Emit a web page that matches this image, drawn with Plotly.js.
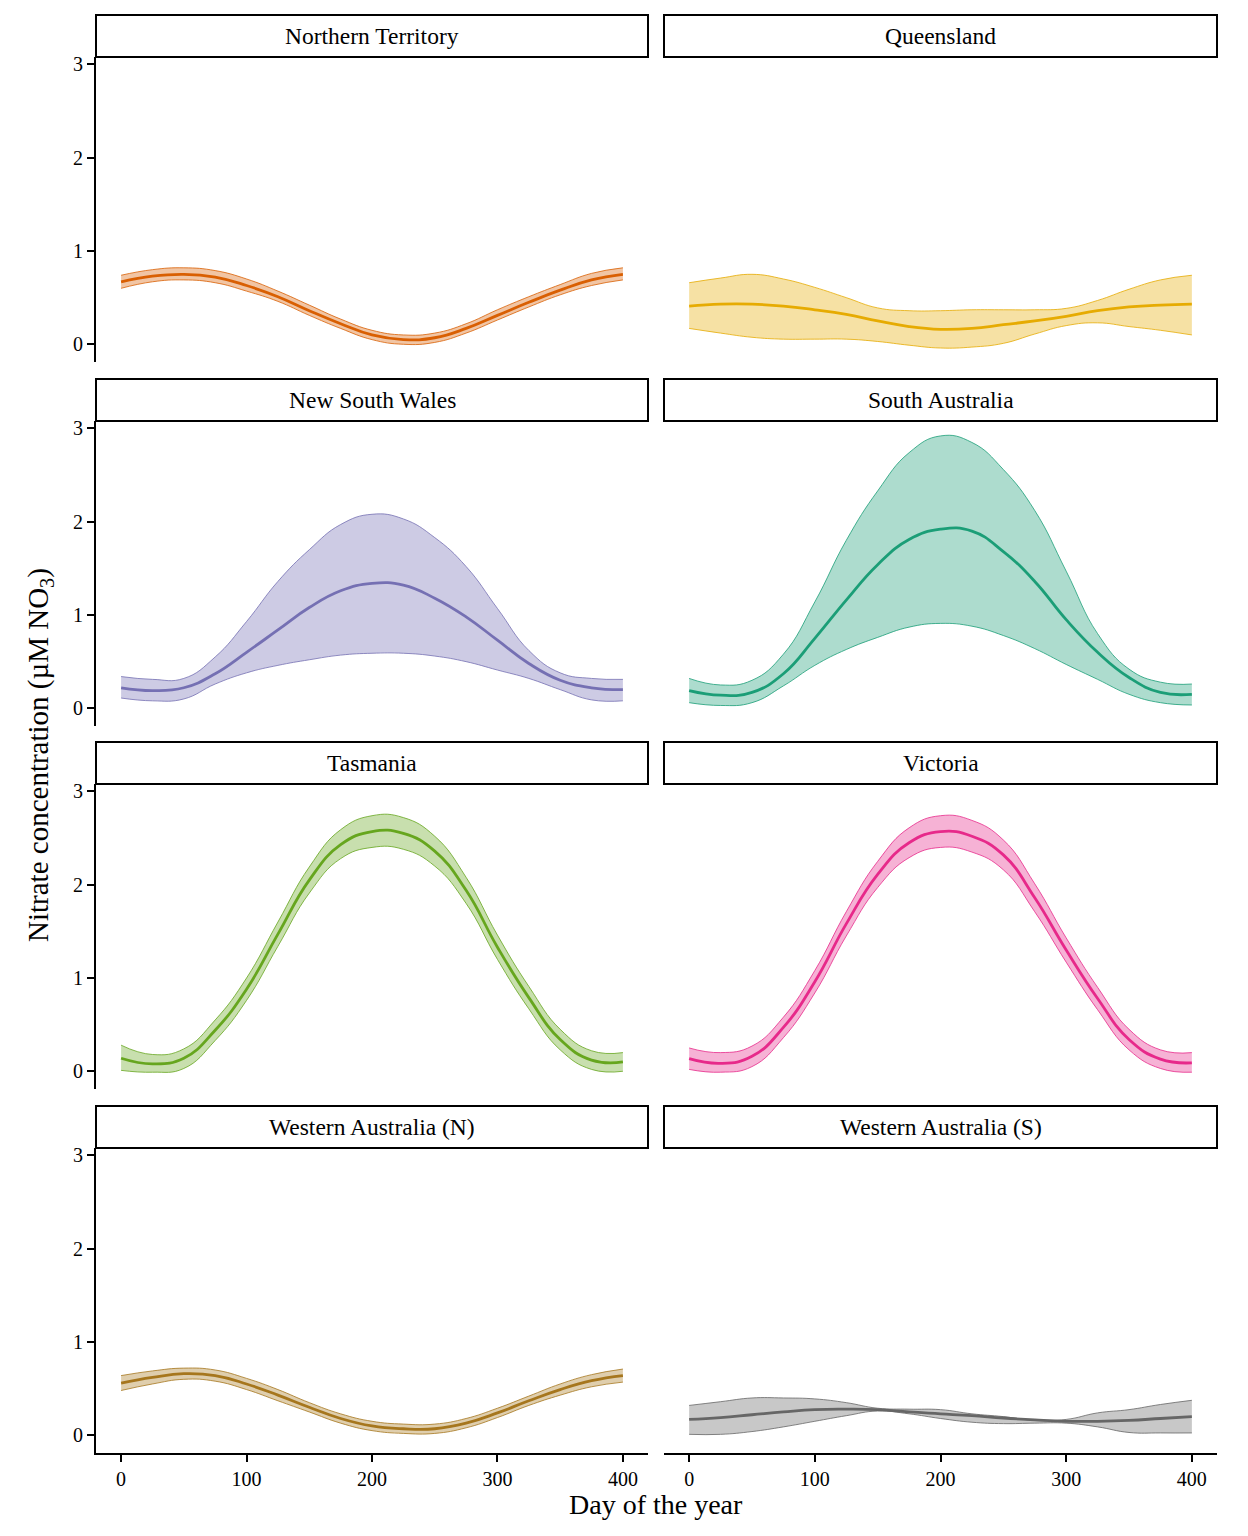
<!DOCTYPE html>
<html>
<head>
<meta charset="utf-8">
<script src="https://cdn.plot.ly/plotly-3.0.1.min.js"></script>
<style>body{margin:0;background:#fff}</style>
</head>
<body>
<div id="nitrate-gph" style="width:1248px;height:1536px"></div>
<script>
// Day of the year (sampled every 25 days)
var days = [0, 25, 50, 75, 100, 125, 150, 175, 200, 225, 250, 275, 300, 325, 350, 375, 400];

var regions = ['Northern Territory', 'Queensland', 'New South Wales', 'South Australia',
  'Tasmania', 'Victoria', 'Western Australia (N)', 'Western Australia (S)'];
var colours = ['#D95F02', '#E6AB02', '#7570B3', '#1B9E77', '#66A61E', '#E7298A', '#A6761D', '#666666'];

// Mean and ribbon (lower / upper) per region
var ntMean = [0.67, 0.73, 0.75, 0.72, 0.63, 0.51, 0.36, 0.22, 0.10, 0.05, 0.07, 0.17, 0.31, 0.45, 0.58, 0.69, 0.75];
var ntLow  = [0.60, 0.67, 0.69, 0.66, 0.57, 0.46, 0.31, 0.17, 0.05, 0.00, 0.02, 0.12, 0.26, 0.40, 0.53, 0.63, 0.69];
var ntUp   = [0.74, 0.80, 0.82, 0.79, 0.70, 0.57, 0.42, 0.27, 0.15, 0.10, 0.12, 0.22, 0.37, 0.51, 0.64, 0.76, 0.82];

var qldMean = [0.41, 0.43, 0.43, 0.41, 0.37, 0.32, 0.25, 0.19, 0.16, 0.17, 0.21, 0.25, 0.30, 0.36, 0.40, 0.42, 0.43];
var qldLow  = [0.17, 0.12, 0.075, 0.055, 0.055, 0.055, 0.03, -0.01, -0.04, -0.03, 0.01, 0.11, 0.20, 0.23, 0.19, 0.15, 0.10];
var qldUp   = [0.66, 0.71, 0.75, 0.70, 0.61, 0.50, 0.39, 0.36, 0.36, 0.37, 0.37, 0.37, 0.385, 0.47, 0.59, 0.69, 0.74];

var nswMean = [0.22, 0.19, 0.22, 0.37, 0.60, 0.84, 1.08, 1.26, 1.34, 1.32, 1.18, 0.98, 0.73, 0.48, 0.30, 0.22, 0.20];
var nswLow  = [0.11, 0.08, 0.10, 0.26, 0.38, 0.46, 0.52, 0.57, 0.59, 0.59, 0.56, 0.50, 0.41, 0.32, 0.20, 0.09, 0.08];
var nswUp   = [0.34, 0.31, 0.32, 0.55, 0.93, 1.36, 1.70, 1.97, 2.08, 2.03, 1.83, 1.52, 1.07, 0.62, 0.38, 0.32, 0.31];

var saMean = [0.19, 0.14, 0.17, 0.37, 0.75, 1.16, 1.54, 1.81, 1.92, 1.90, 1.68, 1.36, 0.95, 0.60, 0.33, 0.17, 0.15];
var saLow  = [0.06, 0.03, 0.06, 0.24, 0.46, 0.63, 0.76, 0.87, 0.91, 0.88, 0.78, 0.64, 0.47, 0.31, 0.15, 0.06, 0.035];
var saUp   = [0.32, 0.25, 0.30, 0.58, 1.14, 1.80, 2.33, 2.74, 2.92, 2.85, 2.56, 2.12, 1.47, 0.80, 0.42, 0.28, 0.26];

var tasMean = [0.14, 0.08, 0.14, 0.44, 0.88, 1.47, 2.05, 2.43, 2.57, 2.55, 2.36, 1.94, 1.33, 0.79, 0.34, 0.12, 0.10];
var tasLow  = [0.01, -0.01, 0.03, 0.33, 0.76, 1.34, 1.91, 2.28, 2.40, 2.38, 2.20, 1.80, 1.20, 0.67, 0.23, 0.02, 0.00];
var tasUp   = [0.28, 0.18, 0.24, 0.55, 1.00, 1.60, 2.19, 2.59, 2.74, 2.72, 2.52, 2.08, 1.46, 0.91, 0.45, 0.22, 0.20];

var vicMean = [0.135, 0.085, 0.16, 0.47, 0.96, 1.58, 2.11, 2.45, 2.57, 2.52, 2.32, 1.86, 1.30, 0.78, 0.34, 0.13, 0.09];
var vicLow  = [0.02, -0.01, 0.05, 0.36, 0.84, 1.45, 1.97, 2.29, 2.40, 2.35, 2.16, 1.71, 1.17, 0.66, 0.23, 0.03, -0.01];
var vicUp   = [0.25, 0.20, 0.27, 0.58, 1.08, 1.71, 2.25, 2.61, 2.74, 2.69, 2.48, 2.01, 1.43, 0.90, 0.45, 0.23, 0.20];

var wanMean = [0.56, 0.62, 0.66, 0.64, 0.55, 0.43, 0.30, 0.18, 0.10, 0.07, 0.07, 0.13, 0.24, 0.37, 0.49, 0.585, 0.64];
var wanLow  = [0.48, 0.55, 0.60, 0.58, 0.49, 0.37, 0.25, 0.13, 0.05, 0.02, 0.02, 0.08, 0.19, 0.32, 0.43, 0.52, 0.57];
var wanUp   = [0.64, 0.69, 0.72, 0.70, 0.61, 0.49, 0.35, 0.23, 0.15, 0.12, 0.12, 0.18, 0.29, 0.42, 0.55, 0.65, 0.71];

var wasMean = [0.17, 0.19, 0.22, 0.25, 0.275, 0.28, 0.275, 0.25, 0.23, 0.21, 0.185, 0.165, 0.15, 0.15, 0.16, 0.18, 0.20];
var wasLow  = [0.01, 0.01, 0.04, 0.09, 0.15, 0.21, 0.26, 0.23, 0.18, 0.14, 0.125, 0.13, 0.13, 0.09, 0.03, 0.025, 0.025];
var wasUp   = [0.32, 0.36, 0.40, 0.40, 0.39, 0.35, 0.29, 0.28, 0.275, 0.23, 0.20, 0.16, 0.17, 0.24, 0.275, 0.33, 0.375];

var means = [ntMean, qldMean, nswMean, saMean, tasMean, vicMean, wanMean, wasMean];
var lows  = [ntLow, qldLow, nswLow, saLow, tasLow, vicLow, wanLow, wasLow];
var ups   = [ntUp, qldUp, nswUp, saUp, tasUp, vicUp, wanUp, wasUp];

var FONT = 'Liberation Serif, Times New Roman, serif';
var W = 1248, H = 1536;
var colEdges = [[96, 648], [664, 1217]];  // panel x edges in px
var rowTops = [57, 421, 784, 1148];       // panel tops in px
var panelH = 305, stripH = 42;
var SMOOTH = 1.3;

function rgba(hex, a) {
  var n = parseInt(hex.slice(1), 16);
  return 'rgba(' + (n >> 16) + ',' + ((n >> 8) & 255) + ',' + (n & 255) + ',' + a + ')';
}

var data = [];
var layout = {
  width: W, height: H,
  margin: {l: 0, r: 0, t: 0, b: 0},
  showlegend: false,
  paper_bgcolor: '#fff', plot_bgcolor: '#fff',
  font: {family: FONT, color: '#000'},
  shapes: [], annotations: []
};

for (var i = 0; i < regions.length; i++) {
  var row = Math.floor(i / 2), col = i % 2;
  var sfx = i === 0 ? '' : String(i + 1);
  var xa = 'x' + sfx, ya = 'y' + sfx;
  var colour = colours[i];

  // ribbon: lower then upper filled to it
  data.push({x: days, y: lows[i], xaxis: xa, yaxis: ya, type: 'scatter', mode: 'lines',
    line: {color: colour, width: 0.8, shape: 'spline', smoothing: SMOOTH}, hoverinfo: 'skip'});
  data.push({x: days, y: ups[i], xaxis: xa, yaxis: ya, type: 'scatter', mode: 'lines',
    fill: 'tonexty', fillcolor: rgba(colour, 0.36),
    line: {color: colour, width: 0.8, shape: 'spline', smoothing: SMOOTH}, hoverinfo: 'skip'});
  data.push({x: days, y: means[i], xaxis: xa, yaxis: ya, type: 'scatter', mode: 'lines',
    line: {color: colour, width: 2.8, shape: 'spline', smoothing: SMOOTH}, name: regions[i]});

  var px0 = colEdges[col][0], px1 = colEdges[col][1];
  var pTop = rowTops[row], pBot = pTop + panelH;
  var bottomRow = row === 3, leftCol = col === 0;

  layout['xaxis' + sfx] = {
    domain: [px0 / W, px1 / W], anchor: ya, range: [-20, 420],
    showgrid: false, zeroline: false,
    showline: bottomRow, linecolor: '#000', linewidth: 2,
    ticks: bottomRow ? 'outside' : '', ticklen: 7, tickwidth: 2, tickcolor: '#000',
    showticklabels: bottomRow, tickvals: [0, 100, 200, 300, 400],
    tickfont: {family: FONT, size: 20, color: '#000'}
  };
  layout['yaxis' + sfx] = {
    domain: [1 - pBot / H, 1 - pTop / H], anchor: xa, range: [-0.19, 3.08],
    showgrid: false, zeroline: false,
    showline: leftCol, linecolor: '#000', linewidth: 2,
    ticks: leftCol ? 'outside' : '', ticklen: 7, tickwidth: 2, tickcolor: '#000',
    showticklabels: leftCol, tickvals: [0, 1, 2, 3],
    tickfont: {family: FONT, size: 20, color: '#000'}
  };

  // facet strip
  layout.shapes.push({type: 'rect', xref: 'paper', yref: 'paper',
    x0: px0 / W, x1: px1 / W, y0: 1 - pTop / H, y1: 1 - (pTop - stripH) / H,
    line: {color: '#000', width: 2}, fillcolor: '#fff'});
  layout.annotations.push({xref: 'paper', yref: 'paper', showarrow: false,
    x: (px0 + px1) / 2 / W, y: 1 - (pTop - stripH / 2) / H, xanchor: 'center', yanchor: 'middle',
    text: regions[i], font: {family: FONT, size: 23.5, color: '#000'}});
}

// shared axis titles
layout.annotations.push({xref: 'paper', yref: 'paper', showarrow: false,
  x: 656 / W, y: 1 - 1504 / H, xanchor: 'center', yanchor: 'middle',
  text: 'Day of the year', font: {family: FONT, size: 28, color: '#000'}});
layout.annotations.push({xref: 'paper', yref: 'paper', showarrow: false,
  x: 40 / W, y: 1 - 755 / H, xanchor: 'center', yanchor: 'middle', textangle: -90,
  text: 'Nitrate concentration (µM NO<sub>3</sub>)', font: {family: FONT, size: 29, color: '#000'}});

Plotly.newPlot('nitrate-gph', data, layout, {staticPlot: true});
</script>
</body>
</html>
